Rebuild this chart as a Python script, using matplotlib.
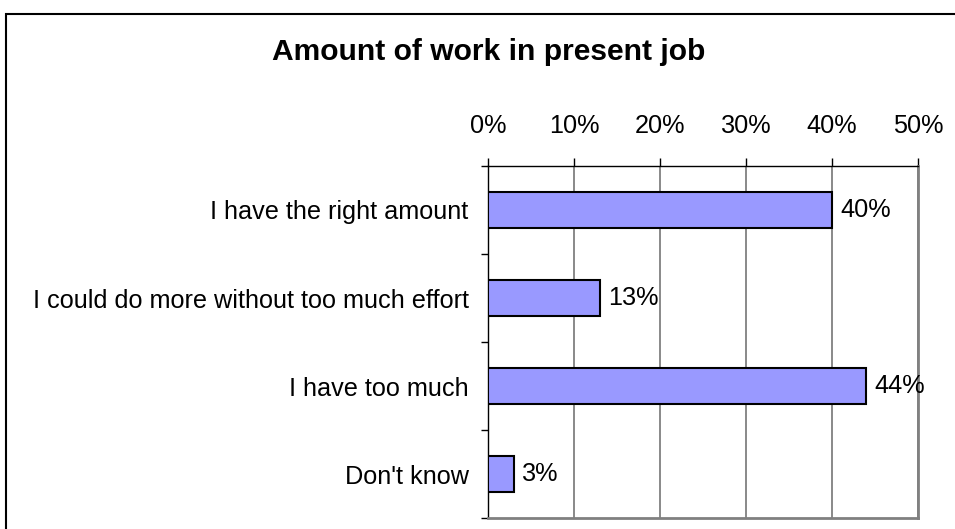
import matplotlib
matplotlib.use("Agg")
import matplotlib.pyplot as plt
from matplotlib.patches import Rectangle
from matplotlib.ticker import FixedLocator, FuncFormatter

categories = [
    "I have the right amount",
    "I could do more without too much effort",
    "I have too much",
    "Don't know",
]
values = [40, 13, 44, 3]
title = "Amount of work in present job"

plt.rcParams['font.family'] = ['Liberation Sans', 'DejaVu Sans']

W, H = 955, 529
fs = 18.2
fig = plt.figure(figsize=(W / 100, H / 100), dpi=100)

# outer chart frame (right/bottom edges run off the canvas)
fig.patches.append(Rectangle((6 / W, -0.2), 1.2, (H - 14) / H + 0.2,
                             transform=fig.transFigure, fill=False,
                             edgecolor='black', lw=1.5))

ax = fig.add_axes([488 / W, (H - 518) / H, (918 - 488) / W, (518 - 166) / H])

pos = list(range(len(categories)))
ax.barh(pos, values, height=0.4, color='#9999FF', edgecolor='black', lw=1.5, zorder=3)
for p, v in zip(pos, values):
    ax.text(v + 0.95, p, f"{v}%", va='center', ha='left', fontsize=fs, zorder=4)

ax.set_xlim(0, 50)
ax.set_ylim(len(categories) - 0.5, -0.5)

ax.xaxis.tick_top()
ax.set_xticks(range(0, 51, 10))
ax.xaxis.set_major_formatter(FuncFormatter(lambda x, _: f"{x:.0f}%"))
ax.tick_params(axis='x', which='major', direction='out', length=6, width=1,
               pad=14, labelsize=fs)
ax.grid(axis='x', color='#808080', lw=1.3, zorder=0)

ax.set_yticks(pos)
ax.set_yticklabels(categories)
ax.tick_params(axis='y', which='major', length=0, pad=14, labelsize=fs)
ax.yaxis.set_minor_locator(FixedLocator([p - 0.5 for p in pos] + [pos[-1] + 0.5]))
ax.tick_params(axis='y', which='minor', direction='out', length=5, width=1)

for side in ['top', 'left']:
    ax.spines[side].set_color('black')
    ax.spines[side].set_linewidth(1)
for side in ['right', 'bottom']:
    ax.spines[side].set_color('#808080')
    ax.spines[side].set_linewidth(2)

fig.text(489 / W, (H - 52) / H, title, ha='center', va='center',
         fontsize=21.6, fontweight='bold')

fig.savefig("out.png", dpi=100)
